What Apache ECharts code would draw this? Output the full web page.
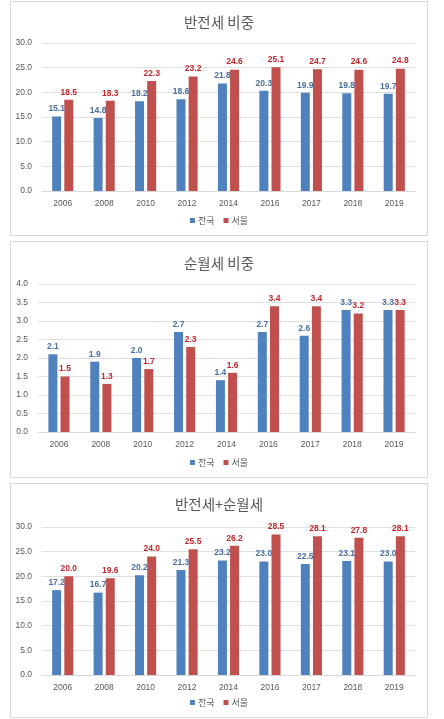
<!DOCTYPE html>
<html>
<head>
<meta charset="utf-8">
<script src="https://cdn.jsdelivr.net/npm/echarts@6/dist/echarts.min.js"></script>
<style>
html,body{margin:0;padding:0;background:#fff;width:444px;height:719px;overflow:hidden;}
.panel{position:absolute;left:10px;width:416px;border:1px solid #d9d9d9;background:#fff;}
</style>
</head>
<body>
<div id="c1" class="panel" style="top:1px;height:233px;"></div>
<div id="c2" class="panel" style="top:241px;height:235px;"></div>
<div id="c3" class="panel" style="top:483px;height:233px;"></div>
<script>
// 연도
var years = ['2006','2008','2010','2012','2014','2016','2017','2018','2019'];

// 반전세 비중
var banjeonseNation = [15.1,14.8,18.2,18.6,21.8,20.3,19.9,19.8,19.7];
var banjeonseSeoul  = [18.5,18.3,22.3,23.2,24.6,25.1,24.7,24.6,24.8];

// 순월세 비중
var wolseNation = [2.1,1.9,2.0,2.7,1.4,2.7,2.6,3.3,3.3];
var wolseSeoul  = [1.5,1.3,1.7,2.3,1.6,3.4,3.4,3.2,3.3];

// 반전세+순월세
var sumNation = [17.2,16.7,20.2,21.3,23.2,23.0,22.5,23.1,23.0];
var sumSeoul  = [20.0,19.6,24.0,25.5,26.2,28.5,28.1,27.8,28.1];

var seriesNames = ['전국','서울'];

var FONT = "'Noto Sans CJK KR', 'Noto Sans', sans-serif";
var BLUE = '#4f81bd', RED = '#c0504d';

function buildOption(title, nation, seoul, yMax, yStep, grid){
	return {
		animation:false,
		textStyle:{fontFamily:FONT},
		title:{
			text:title,left:'center',top:grid.titleTop,
			textStyle:{fontFamily:FONT,fontSize:14.5,fontWeight:'normal',color:'#595959'}
		},
		legend:{
			bottom:5,left:'center',
			itemWidth:5,itemHeight:5,itemGap:9,icon:'rect',
			textStyle:{fontFamily:FONT,fontSize:9,color:'#595959',padding:[0,0,0,-2]},
			data:seriesNames
		},
		grid:{left:grid.left,right:12,top:grid.top,bottom:grid.bottom},
		xAxis:{
			type:'category',data:years,
			axisLine:{lineStyle:{color:'#d9d9d9'}},
			axisTick:{show:false},
			axisLabel:{color:'#595959',fontSize:8.5,margin:8,fontFamily:'Liberation Sans'}
		},
		yAxis:{
			type:'value',min:0,max:yMax,interval:yStep,
			axisLine:{show:false},axisTick:{show:false},
			splitLine:{lineStyle:{color:'#e0e0e0'}},
			axisLabel:{color:'#595959',fontSize:8.5,margin:10,fontFamily:'Liberation Sans',
				formatter:function(v){return v.toFixed(1);}}
		},
		series:[
			{
				name:seriesNames[0],type:'bar',data:nation,barWidth:9,barGap:'35%',
				itemStyle:{color:BLUE},
				label:{show:true,position:'top',distance:3,color:'#4a6fa0',fontSize:8.5,fontWeight:'bold',
					fontFamily:'Liberation Sans',formatter:function(p){return p.value.toFixed(1);}}
			},
			{
				name:seriesNames[1],type:'bar',data:seoul,barWidth:9,
				itemStyle:{color:RED},
				label:{show:true,position:'top',distance:3,color:'#c0282d',fontSize:8.5,fontWeight:'bold',
					fontFamily:'Liberation Sans',formatter:function(p){return p.value.toFixed(1);}}
			}
		]
	};
}

var c1 = echarts.init(document.getElementById('c1'));
c1.setOption(buildOption('반전세 비중',banjeonseNation,banjeonseSeoul,30,5,{titleTop:8,left:31,top:41,bottom:44}));

var c2 = echarts.init(document.getElementById('c2'));
c2.setOption(buildOption('순월세 비중',wolseNation,wolseSeoul,4,0.5,{titleTop:9,left:27,top:42,bottom:45}));

var c3 = echarts.init(document.getElementById('c3'));
c3.setOption(buildOption('반전세+순월세',sumNation,sumSeoul,30,5,{titleTop:8,left:31,top:43,bottom:42}));
</script>
</body>
</html>
